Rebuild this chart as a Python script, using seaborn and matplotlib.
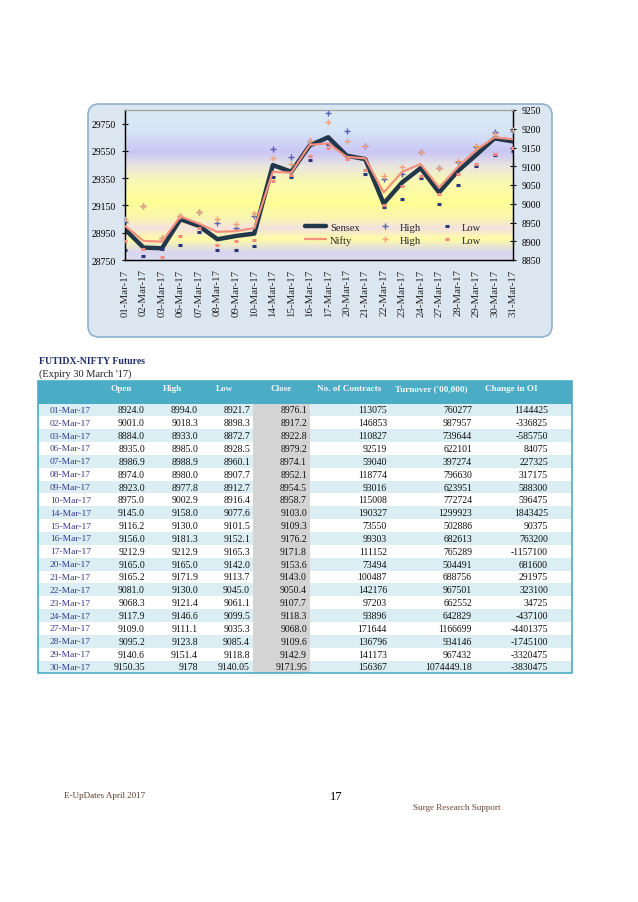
import numpy as np
import pandas as pd
import matplotlib
matplotlib.use("Agg")
import matplotlib.pyplot as plt
from matplotlib.patches import FancyBboxPatch, Rectangle
from matplotlib.lines import Line2D
import seaborn as sns

# ---------------- data ----------------
chart_dates = ["01-Mar-17", "02-Mar-17", "03-Mar-17", "06-Mar-17", "07-Mar-17", "08-Mar-17",
               "09-Mar-17", "10-Mar-17", "14-Mar-17", "15-Mar-17", "16-Mar-17", "17-Mar-17",
               "20-Mar-17", "21-Mar-17", "22-Mar-17", "23-Mar-17", "24-Mar-17", "27-Mar-17",
               "28-Mar-17", "29-Mar-17", "30-Mar-17", "31-Mar-17"]
sensex_close = [28975, 28841, 28836, 29049, 29000, 28902, 28926, 28944, 29446, 29397, 29590,
                29650, 29515, 29490, 29164, 29319, 29424, 29245, 29400, 29520, 29642, 29620]
sensex_high = [29029, 29147, 28909, 29074, 29103, 29025, 28988, 29074, 29561, 29507, 29625,
               29826, 29699, 29583, 29343, 29380, 29539, 29424, 29466, 29581, 29686, 29699]
sensex_low = [28824, 28782, 28830, 28858, 28958, 28821, 28821, 28853, 29360, 29360, 29485,
              29600, 29510, 29380, 29142, 29199, 29350, 29164, 29301, 29439, 29520, 29551]
nifty_close = [8941, 8901, 8899, 8966, 8947, 8925, 8927, 8935, 9085, 9083, 9157,
               9161, 9125, 9121, 9030, 9085, 9106, 9043, 9097, 9143, 9177, 9172]
nifty_high = [8960, 8994, 8908, 8968, 8978, 8960, 8945, 8975, 9123, 9106, 9168,
              9218, 9168, 9153, 9074, 9099, 9137, 9095, 9115, 9155, 9186, 9197]
nifty_low = [8901, 8880, 8859, 8914, 8936, 8890, 8901, 8903, 9061, 9077, 9128,
             9150, 9119, 9090, 8996, 9048, 9074, 9026, 9079, 9107, 9134, 9148]
left_ticks = [28750, 28950, 29150, 29350, 29550, 29750]
right_ticks = [8850, 8900, 8950, 9000, 9050, 9100, 9150, 9200, 9250]

table_title = "FUTIDX-NIFTY Futures"
table_subtitle = "(Expiry 30 March '17)"
table_headers = ["", "Open", "High", "Low", "Close", "No. of Contracts", "Turnover ('00,000)", "Change in OI"]
tbl_dates = ["01-Mar-17", "02-Mar-17", "03-Mar-17", "06-Mar-17", "07-Mar-17", "08-Mar-17",
             "09-Mar-17", "10-Mar-17", "14-Mar-17", "15-Mar-17", "16-Mar-17", "17-Mar-17",
             "20-Mar-17", "21-Mar-17", "22-Mar-17", "23-Mar-17", "24-Mar-17", "27-Mar-17",
             "28-Mar-17", "29-Mar-17", "30-Mar-17"]
tbl_open = ["8924.0", "9001.0", "8884.0", "8935.0", "8986.9", "8974.0", "8923.0", "8975.0",
            "9145.0", "9116.2", "9156.0", "9212.9", "9165.0", "9165.2", "9081.0", "9068.3",
            "9117.9", "9109.0", "9095.2", "9140.6", "9150.35"]
tbl_high = ["8994.0", "9018.3", "8933.0", "8985.0", "8988.9", "8980.0", "8977.8", "9002.9",
            "9158.0", "9130.0", "9181.3", "9212.9", "9165.0", "9171.9", "9130.0", "9121.4",
            "9146.6", "9111.1", "9123.8", "9151.4", "9178"]
tbl_low = ["8921.7", "8898.3", "8872.7", "8928.5", "8960.1", "8907.7", "8912.7", "8916.4",
           "9077.6", "9101.5", "9152.1", "9165.3", "9142.0", "9113.7", "9045.0", "9061.1",
           "9099.5", "9035.3", "9085.4", "9118.8", "9140.05"]
tbl_close = ["8976.1", "8917.2", "8922.8", "8979.2", "8974.1", "8952.1", "8954.5", "8958.7",
             "9103.0", "9109.3", "9176.2", "9171.8", "9153.6", "9143.0", "9050.4", "9107.7",
             "9118.3", "9068.0", "9109.6", "9142.9", "9171.95"]
tbl_contracts = ["113075", "146853", "110827", "92519", "59040", "118774", "93016", "115008",
                 "190327", "73550", "99303", "111152", "73494", "100487", "142176", "97203",
                 "93896", "171644", "136796", "141173", "156367"]
tbl_turnover = ["760277", "987957", "739644", "622101", "397274", "796630", "623951", "772724",
                "1299923", "502886", "682613", "765289", "504491", "688756", "967501", "662552",
                "642829", "1166699", "934146", "967432", "1074449.18"]
tbl_oi = ["1144425", "-336825", "-585750", "84075", "227325", "317175", "588300", "596475",
          "1843425", "90375", "763200", "-1157100", "681600", "291975", "323100", "34725",
          "-437100", "-4401375", "-1745100", "-3320475", "-3830475"]

footer_left = "E-UpDates April 2017"
footer_page = "17"
footer_right = "Surge Research Support"

# ---------------- style ----------------
sns.set_theme(style="white")
SERIF = ["Liberation Serif", "DejaVu Serif"]
plt.rcParams["font.family"] = SERIF

W, H = 638, 903
fig = plt.figure(figsize=(W / 100, H / 100), dpi=100)
fig.patch.set_facecolor("white")

# chart box (pixel coordinates, origin bottom-left)
box = FancyBboxPatch((88, H - 338), 464, 233,
                     boxstyle="round,pad=0,rounding_size=11",
                     transform=None, facecolor="#dce6f1", edgecolor="#8fb0cf",
                     linewidth=1.2, zorder=0)
fig.patches.append(box)

pos = list(range(len(chart_dates)))
df = pd.DataFrame({"pos": pos, "sensex": sensex_close, "s_high": sensex_high, "s_low": sensex_low,
                   "nifty": nifty_close, "n_high": nifty_high, "n_low": nifty_low})

L, R, T, B = 125, 513, 111, 261
ax = fig.add_axes([L / W, 1 - B / H, (R - L) / W, (B - T) / H])
ax.set_zorder(1)

# gradient background
stops = [(0.00, (218, 234, 244)), (0.14, (214, 228, 246)), (0.28, (202, 198, 245)),
         (0.37, (232, 228, 226)), (0.47, (250, 248, 180)), (0.62, (255, 255, 150)),
         (0.72, (250, 245, 175)), (0.79, (244, 226, 222)), (0.86, (255, 252, 165)),
         (0.95, (216, 212, 240)), (1.00, (222, 222, 240))]
yy = np.linspace(0, 1, 300)
cols = np.zeros((300, 3))
sp = [s[0] for s in stops]
for c in range(3):
    cols[:, c] = np.interp(yy, sp, [s[1][c] / 255 for s in stops])
grad = cols[:, None, :]
ax.imshow(grad, extent=[0, 1, 0, 1], transform=ax.transAxes, aspect="auto", zorder=0,
          origin="upper", interpolation="bilinear")

ax2 = ax.twinx()

c_sensex = "#22384a"
c_nifty = "#f4907e"
c_shigh = "#5a5fb0"
c_slow = "#2a3478"
c_nhigh = "#f0a07a"
c_nlow = "#f08a80"

sns.lineplot(data=df, x="pos", y="sensex", ax=ax, color=c_sensex, linewidth=3.2, zorder=3)
sns.scatterplot(data=df, x="pos", y="s_high", ax=ax, marker="+", s=22, color=c_shigh,
                linewidth=1.0, zorder=4)
sns.scatterplot(data=df, x="pos", y="s_low", ax=ax, marker="_", s=9, color=c_slow,
                linewidth=2.2, zorder=4)

sns.lineplot(data=df, x="pos", y="nifty", ax=ax2, color=c_nifty, linewidth=1.6, zorder=3)
sns.scatterplot(data=df, x="pos", y="n_high", ax=ax2, marker="+", s=22, color=c_nhigh,
                linewidth=1.0, zorder=4)
sns.scatterplot(data=df, x="pos", y="n_low", ax=ax2, marker="_", s=9, color=c_nlow,
                linewidth=2.2, zorder=4)

ax.set_xlim(0, len(chart_dates) - 1)
ax.set_ylim(28750, 29850)
ax2.set_ylim(8850, 9250)
ax.set_yticks(left_ticks)
ax2.set_yticks(right_ticks)
ax.set_xticks(pos)
ax.set_xticklabels(chart_dates, rotation=90, fontsize=7.8, family=SERIF)
ax.tick_params(axis="x", length=0, pad=6)
ax.tick_params(axis="y", direction="inout", length=5, width=0.8, labelsize=7, pad=4, colors="black")
ax2.tick_params(axis="y", direction="inout", length=5, width=0.8, labelsize=7, pad=4, colors="black")
for a in (ax, ax2):
    a.set_xlabel("")
    a.set_ylabel("")
    for lab in a.get_yticklabels():
        lab.set_family(SERIF)
for a in (ax, ax2):
    a.spines["top"].set_color("#a0a0a0")
    a.spines["top"].set_linewidth(0.8)
    a.spines["left"].set_color("black")
    a.spines["right"].set_color("black")
    a.spines["bottom"].set_color("black")
    for s in ("left", "right", "bottom"):
        a.spines[s].set_linewidth(0.9)

handles = [Line2D([], [], color=c_sensex, lw=3.2), Line2D([], [], color=c_nifty, lw=1.6),
           Line2D([], [], color=c_shigh, marker="+", ls="", ms=5, mew=1.0),
           Line2D([], [], color=c_nhigh, marker="+", ls="", ms=5, mew=1.0),
           Line2D([], [], color=c_slow, marker="_", ls="", ms=3, mew=2.2),
           Line2D([], [], color=c_nlow, marker="_", ls="", ms=3, mew=2.2)]
labels = ["Sensex", "Nifty", "High", "High", "Low", "Low"]
leg = ax2.legend(handles, labels, ncol=3, loc="center", bbox_to_anchor=(0.69, 0.175),
                 frameon=False, handlelength=2.0, handletextpad=0.4,
                 columnspacing=1.4, labelspacing=0.3, borderpad=0.2,
                 prop={"family": SERIF, "size": 7.6})

# ---------------- table & page text ----------------
tx = fig.add_axes([0, 0, 1, 1], zorder=2)
tx.set_xlim(0, W)
tx.set_ylim(H, 0)
tx.axis("off")
tx.patch.set_alpha(0)

tx.text(39, 362, table_title, fontsize=7, fontweight="bold", color="#1f2d6b", va="center", ha="left")
tx.text(39, 374, table_subtitle, fontsize=7.5, color="#222222", va="center", ha="left")

tl, tr = 38, 572
hdr_top, hdr_bot = 382, 404.5
rh = 12.85
nrows = len(tbl_dates)
tbot = hdr_bot + nrows * rh
tx.add_patch(Rectangle((tl, hdr_top), tr - tl, hdr_bot - hdr_top, facecolor="#4bacc6", edgecolor="none"))
for i in range(nrows):
    y0 = hdr_bot + i * rh
    fc = "#daeef3" if i % 2 == 0 else "white"
    tx.add_patch(Rectangle((tl, y0), tr - tl, rh, facecolor=fc, edgecolor="none"))
tx.add_patch(Rectangle((253, hdr_bot), 57, nrows * rh, facecolor="#d4d4d4", edgecolor="none"))
tx.add_patch(Rectangle((tl, hdr_top), tr - tl, tbot - hdr_top, facecolor="none",
                       edgecolor="#4bacc6", linewidth=1.2))

hdr_x = [None, 121, 172, 225, 281, 349, 431, 511]
for h, xc in zip(table_headers, hdr_x):
    if h:
        tx.text(xc, 389, h, fontsize=6.6, fontweight="bold", color="#f4f8fa", ha="center", va="center")

col_right = [145, 198, 250, 307, 387, 472, 548]
cols_data = [tbl_open, tbl_high, tbl_low, tbl_close, tbl_contracts, tbl_turnover, tbl_oi]
for i in range(nrows):
    yc = hdr_bot + (i + 0.5) * rh
    tx.text(50, yc, tbl_dates[i], fontsize=6.8, color="#3a3a8a", ha="left", va="center")
    for xr, colv in zip(col_right, cols_data):
        tx.text(xr, yc, colv[i], fontsize=7, color="#111111", ha="right", va="center")

tx.text(64, 796, footer_left, fontsize=6.5, color="#5b3b2b", ha="left", va="center")
tx.text(336, 797, footer_page, fontsize=9, color="black", ha="center", va="center")
tx.text(413, 808, footer_right, fontsize=6.5, color="#6b4535", ha="left", va="center")

fig.savefig("out.png", dpi=100)
